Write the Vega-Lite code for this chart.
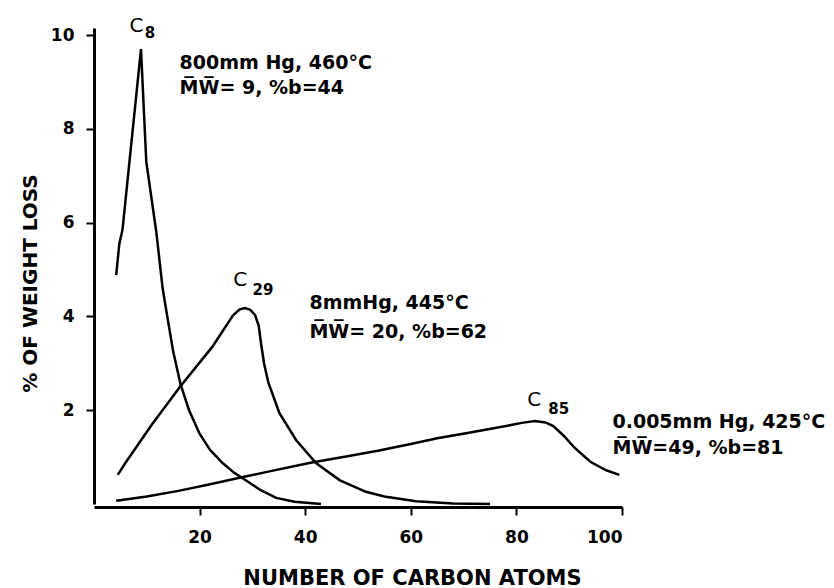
{
  "$schema": "https://vega.github.io/schema/vega-lite/v6.json",
  "width": 528,
  "height": 476,
  "autosize": "none",
  "padding": {"left": 94, "top": 28, "right": 212, "bottom": 84},
  "background": "white",
  "config": {
    "view": {"stroke": null},
    "font": "DejaVu Sans",
    "axis": {
      "domainColor": "black", "domainWidth": 3, "tickColor": "black", "tickWidth": 2, "tickSize": 8,
      "labelColor": "black", "labelFont": "DejaVu Sans", "labelFontSize": 17, "labelFontWeight": "bold",
      "titleColor": "black", "titleFont": "DejaVu Sans", "titleFontWeight": "bold", "grid": false
    }
  },
  "datasets": {
    "curves": [
      {"carbon": 4.2, "loss": 4.88, "series": "800 mm Hg"},
      {"carbon": 4.8, "loss": 5.55, "series": "800 mm Hg"},
      {"carbon": 5.4, "loss": 5.85, "series": "800 mm Hg"},
      {"carbon": 8.9, "loss": 9.7, "series": "800 mm Hg"},
      {"carbon": 9.9, "loss": 7.3, "series": "800 mm Hg"},
      {"carbon": 11.8, "loss": 5.8, "series": "800 mm Hg"},
      {"carbon": 13.0, "loss": 4.6, "series": "800 mm Hg"},
      {"carbon": 13.8, "loss": 4.05, "series": "800 mm Hg"},
      {"carbon": 15.0, "loss": 3.25, "series": "800 mm Hg"},
      {"carbon": 16.4, "loss": 2.55, "series": "800 mm Hg"},
      {"carbon": 18.0, "loss": 2.0, "series": "800 mm Hg"},
      {"carbon": 20.0, "loss": 1.5, "series": "800 mm Hg"},
      {"carbon": 22.0, "loss": 1.15, "series": "800 mm Hg"},
      {"carbon": 24.3, "loss": 0.88, "series": "800 mm Hg"},
      {"carbon": 26.5, "loss": 0.67, "series": "800 mm Hg"},
      {"carbon": 28.8, "loss": 0.5, "series": "800 mm Hg"},
      {"carbon": 31.5, "loss": 0.3, "series": "800 mm Hg"},
      {"carbon": 34.5, "loss": 0.13, "series": "800 mm Hg"},
      {"carbon": 38.0, "loss": 0.05, "series": "800 mm Hg"},
      {"carbon": 43.0, "loss": 0.0, "series": "800 mm Hg"},
      {"carbon": 4.5, "loss": 0.62, "series": "8 mm Hg"},
      {"carbon": 6.1, "loss": 0.9, "series": "8 mm Hg"},
      {"carbon": 11.0, "loss": 1.7, "series": "8 mm Hg"},
      {"carbon": 16.3, "loss": 2.5, "series": "8 mm Hg"},
      {"carbon": 22.4, "loss": 3.35, "series": "8 mm Hg"},
      {"carbon": 26.3, "loss": 4.02, "series": "8 mm Hg"},
      {"carbon": 27.6, "loss": 4.15, "series": "8 mm Hg"},
      {"carbon": 28.6, "loss": 4.18, "series": "8 mm Hg"},
      {"carbon": 29.6, "loss": 4.14, "series": "8 mm Hg"},
      {"carbon": 30.5, "loss": 4.03, "series": "8 mm Hg"},
      {"carbon": 31.2, "loss": 3.8, "series": "8 mm Hg"},
      {"carbon": 31.6, "loss": 3.45, "series": "8 mm Hg"},
      {"carbon": 32.2, "loss": 3.0, "series": "8 mm Hg"},
      {"carbon": 33.0, "loss": 2.6, "series": "8 mm Hg"},
      {"carbon": 35.1, "loss": 1.94, "series": "8 mm Hg"},
      {"carbon": 38.3, "loss": 1.36, "series": "8 mm Hg"},
      {"carbon": 42.1, "loss": 0.87, "series": "8 mm Hg"},
      {"carbon": 46.5, "loss": 0.51, "series": "8 mm Hg"},
      {"carbon": 51.5, "loss": 0.26, "series": "8 mm Hg"},
      {"carbon": 55.0, "loss": 0.16, "series": "8 mm Hg"},
      {"carbon": 61.0, "loss": 0.06, "series": "8 mm Hg"},
      {"carbon": 68.0, "loss": 0.01, "series": "8 mm Hg"},
      {"carbon": 75.0, "loss": 0.0, "series": "8 mm Hg"},
      {"carbon": 4.2, "loss": 0.07, "series": "0.005 mm Hg"},
      {"carbon": 10.0, "loss": 0.16, "series": "0.005 mm Hg"},
      {"carbon": 16.0, "loss": 0.28, "series": "0.005 mm Hg"},
      {"carbon": 22.0, "loss": 0.42, "series": "0.005 mm Hg"},
      {"carbon": 28.0, "loss": 0.57, "series": "0.005 mm Hg"},
      {"carbon": 33.0, "loss": 0.69, "series": "0.005 mm Hg"},
      {"carbon": 41.0, "loss": 0.88, "series": "0.005 mm Hg"},
      {"carbon": 48.0, "loss": 1.02, "series": "0.005 mm Hg"},
      {"carbon": 54.0, "loss": 1.14, "series": "0.005 mm Hg"},
      {"carbon": 60.0, "loss": 1.28, "series": "0.005 mm Hg"},
      {"carbon": 65.0, "loss": 1.4, "series": "0.005 mm Hg"},
      {"carbon": 71.0, "loss": 1.52, "series": "0.005 mm Hg"},
      {"carbon": 77.0, "loss": 1.64, "series": "0.005 mm Hg"},
      {"carbon": 81.0, "loss": 1.73, "series": "0.005 mm Hg"},
      {"carbon": 83.5, "loss": 1.77, "series": "0.005 mm Hg"},
      {"carbon": 85.5, "loss": 1.74, "series": "0.005 mm Hg"},
      {"carbon": 87.0, "loss": 1.66, "series": "0.005 mm Hg"},
      {"carbon": 89.0, "loss": 1.45, "series": "0.005 mm Hg"},
      {"carbon": 91.0, "loss": 1.2, "series": "0.005 mm Hg"},
      {"carbon": 94.0, "loss": 0.9, "series": "0.005 mm Hg"},
      {"carbon": 97.0, "loss": 0.72, "series": "0.005 mm Hg"},
      {"carbon": 99.5, "loss": 0.62, "series": "0.005 mm Hg"}
    ],
    "peaks": [
      {"carbon": 8.05, "loss": 10.2, "label": "C"},
      {"carbon": 27.7, "loss": 4.78, "label": "C"},
      {"carbon": 83.4, "loss": 2.22, "label": "C"}
    ],
    "subs": [
      {"carbon": 10.6, "loss": 10.05, "label": "8"},
      {"carbon": 32.0, "loss": 4.56, "label": "29"},
      {"carbon": 88.0, "loss": 2.03, "label": "85"}
    ],
    "conditions": [
      {"carbon": 16.2, "loss": 9.4, "label": "800mm Hg, 460°C"},
      {"carbon": 16.2, "loss": 8.87, "label": "M̅W̅= 9, %b=44"},
      {"carbon": 40.8, "loss": 4.29, "label": "8mmHg, 445°C"},
      {"carbon": 40.8, "loss": 3.67, "label": "M̅W̅= 20, %b=62"},
      {"carbon": 98.2, "loss": 1.75, "label": "0.005mm Hg, 425°C"},
      {"carbon": 98.2, "loss": 1.19, "label": "M̅W̅=49, %b=81"}
    ]
  },
  "layer": [
    {
      "data": {"name": "curves"},
      "mark": {"type": "line", "color": "black", "strokeWidth": 2.5, "interpolate": "linear"},
      "encoding": {
        "x": {"field": "carbon", "type": "quantitative", "scale": {"domain": [0, 100], "nice": false},
              "axis": {"values": [20, 40, 60, 80, 100], "title": "NUMBER OF CARBON ATOMS", "titleFontSize": 21, "titleX": 318, "labelPadding": 14, "titlePadding": 22, "offset": 3}},
        "y": {"field": "loss", "type": "quantitative", "scale": {"domain": [0, 10.15], "nice": false},
              "axis": {"values": [2, 4, 6, 8, 10], "title": "% OF WEIGHT LOSS", "titleFontSize": 20, "titleY": 255, "labelPadding": 12, "titlePadding": 10}},
        "detail": {"field": "series"},
        "order": {"field": "carbon", "type": "quantitative"}
      }
    },
    {
      "data": {"name": "peaks"},
      "mark": {"type": "text", "fontSize": 20, "align": "center", "baseline": "middle", "color": "black"},
      "encoding": {
        "x": {"field": "carbon", "type": "quantitative"},
        "y": {"field": "loss", "type": "quantitative"},
        "text": {"field": "label"}
      }
    },
    {
      "data": {"name": "subs"},
      "mark": {"type": "text", "fontSize": 15, "fontWeight": "bold", "align": "center", "baseline": "middle", "color": "black"},
      "encoding": {
        "x": {"field": "carbon", "type": "quantitative"},
        "y": {"field": "loss", "type": "quantitative"},
        "text": {"field": "label"}
      }
    },
    {
      "data": {"name": "conditions"},
      "mark": {"type": "text", "fontSize": 19, "fontWeight": "bold", "align": "left", "baseline": "middle", "color": "black"},
      "encoding": {
        "x": {"field": "carbon", "type": "quantitative"},
        "y": {"field": "loss", "type": "quantitative"},
        "text": {"field": "label"}
      }
    }
  ]
}
